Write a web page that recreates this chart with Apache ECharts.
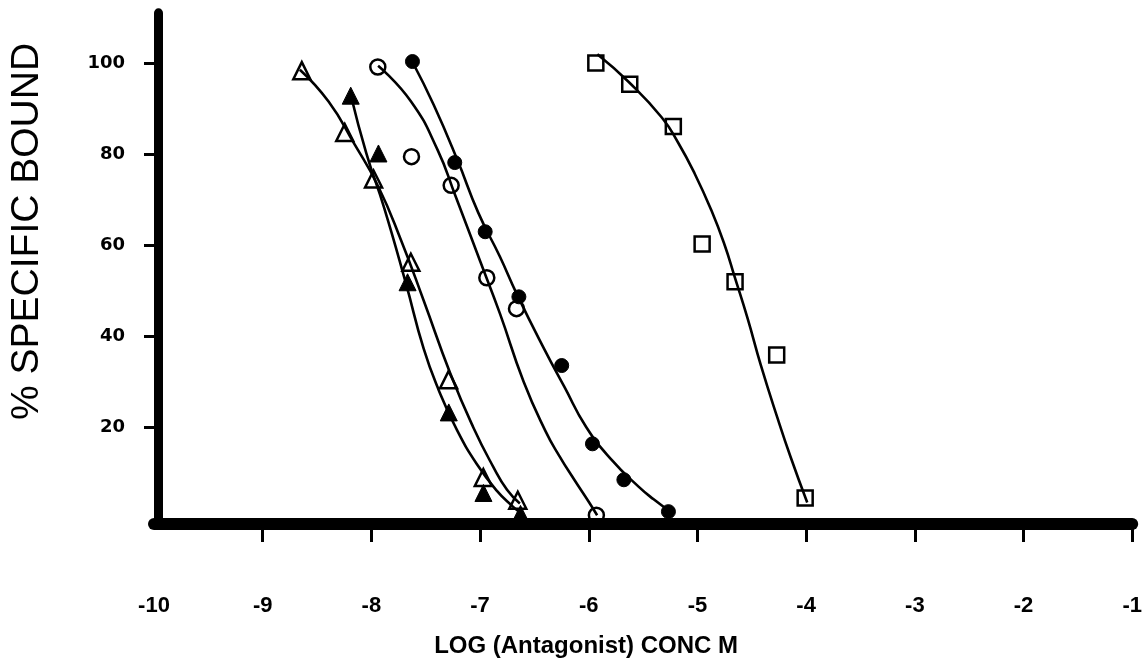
<!DOCTYPE html>
<html>
<head>
<meta charset="utf-8">
<script src="https://cdn.jsdelivr.net/npm/echarts@6/dist/echarts.min.js"></script>
<style>
html,body{margin:0;padding:0;background:#fff;}
#chart{width:1145px;height:663px;}
</style>
</head>
<body>
<div id="chart"></div>
<script>
// ---- tick labels ----
const xTickValues = [-10, -9, -8, -7, -6, -5, -4, -3, -2, -1];
const xTickMarks = [-9, -8, -7, -6, -5, -4, -3, -2, -1];
const yTickValues = [20, 40, 60, 80, 100];

// ---- measured points [log conc, % specific bound] ----
const openTriangles = [[-8.64, 98.3], [-8.245, 84.7], [-7.98, 74.5], [-7.637, 56.2], [-7.29, 30.4], [-6.97, 8.9], [-6.653, 3.9]];
const filledTriangles = [[-8.19, 92.8], [-7.935, 80.1], [-7.667, 51.8], [-7.288, 23.2], [-6.969, 5.5], [-6.628, 0.9]];
const openCircles = [[-7.941, 99.1], [-7.631, 79.4], [-7.266, 73.1], [-6.938, 52.8], [-6.665, 46.0], [-5.93, 0.6]];
const filledCircles = [[-7.622, 100.3], [-7.233, 78.1], [-6.953, 62.9], [-6.643, 48.6], [-6.249, 33.5], [-5.966, 16.3], [-5.677, 8.4], [-5.267, 1.4]];
const openSquares = [[-5.935, 100.0], [-5.623, 95.3], [-5.222, 86.0], [-4.957, 60.2], [-4.654, 51.9], [-4.271, 35.8], [-4.009, 4.4]];

// ---- fitted curves ----
const curveOpenTriangles = [[-8.658, 98.5], [-8.394, 91.5], [-8.157, 82.2], [-7.938, 72.9], [-7.728, 61.1], [-7.519, 47.8], [-7.273, 31.7], [-7.062, 19.9], [-6.88, 11.3], [-6.752, 6.2], [-6.634, 3.2]];
const curveFilledTriangles = [[-8.189, 92.9], [-8.047, 80.2], [-7.883, 68.2], [-7.683, 51.6], [-7.519, 37.2], [-7.382, 28.2], [-7.212, 19.3], [-7.029, 11.8], [-6.847, 6.0], [-6.698, 2.5], [-6.625, 1.1]];
const curveOpenCircles = [[-7.938, 99.4], [-7.637, 91.6], [-7.391, 80.9], [-7.227, 70.8], [-6.999, 56.4], [-6.817, 44.9], [-6.6, 30.0], [-6.398, 19.1], [-6.27, 13.6], [-6.133, 8.4], [-5.996, 3.4], [-5.923, 0.6]];
const curveFilledCircles = [[-7.622, 100.2], [-7.427, 90.8], [-7.209, 78.7], [-7.017, 67.1], [-6.817, 57.4], [-6.662, 49.2], [-6.407, 37.0], [-6.224, 28.8], [-6.024, 20.0], [-5.787, 12.7], [-5.542, 6.9], [-5.403, 4.1], [-5.267, 1.7]];
const curveOpenSquares = [[-5.921, 101.9], [-5.632, 95.8], [-5.328, 88.0], [-5.176, 82.4], [-5.024, 75.6], [-4.872, 67.6], [-4.75, 60.0], [-4.659, 53.1], [-4.538, 43.8], [-4.417, 33.6], [-4.264, 22.0], [-4.143, 13.4], [-3.99, 3.4]];

const chart = echarts.init(document.getElementById('chart'), null, {renderer: 'canvas'});

function curve(data) {
  return {
    type: 'line', data: data, smooth: 0.5,
    showSymbol: false, symbol: 'none', silent: true, z: 2,
    lineStyle: {color: '#000', width: 2.6, opacity: 1}
  };
}
function marks(data, symbol, size, filled) {
  return {
    type: 'scatter', data: data, symbol: symbol, symbolSize: size, z: 3, silent: true,
    itemStyle: filled
      ? {color: '#000', borderColor: '#000', borderWidth: 1, opacity: 1}
      : {color: 'rgba(0,0,0,0)', borderColor: '#000', borderWidth: 2.5, opacity: 1}
  };
}

const option = {
  backgroundColor: '#ffffff',
  animation: false,
  grid: {left: 150.8, right: 6.9, top: 12.85, bottom: 134, containLabel: false},
  xAxis: {
    type: 'value', min: -10, max: -1, interval: 1,
    offset: 6,
    name: 'LOG (Antagonist) CONC M',
    nameLocation: 'middle', nameGap: 110,
    nameTextStyle: {fontFamily: 'Liberation Sans', fontWeight: 'bold', fontSize: 24, color: '#000', padding: [0, 114, 0, 0]},
    axisLine: {show: true, onZero: false, lineStyle: {color: '#000', width: 12}},
    axisTick: {show: true, length: 18, customValues: xTickMarks, lineStyle: {color: '#000', width: 3}},
    axisLabel: {customValues: xTickValues, margin: 71, fontFamily: 'Liberation Sans', fontWeight: 'bold', fontSize: 22, color: '#000'},
    splitLine: {show: false}
  },
  yAxis: {
    type: 'value', min: 0, max: 111,
    offset: -4,
    name: '% SPECIFIC BOUND',
    nameLocation: 'middle', nameGap: 111, nameRotate: 90,
    nameTextStyle: {fontFamily: 'Liberation Sans', fontWeight: 'normal', fontSize: 39, color: '#000', padding: [0, 0, 0, 68]},
    axisLine: {show: true, onZero: false, lineStyle: {color: '#000', width: 9}},
    axisTick: {show: true, length: 14, customValues: yTickValues, lineStyle: {color: '#000', width: 3}},
    axisLabel: {customValues: yTickValues, margin: 33, fontFamily: 'DejaVu Sans', fontWeight: 'bold', fontSize: 18, color: '#000'},
    splitLine: {show: false}
  },
  series: [
    curve(curveOpenTriangles),
    curve(curveFilledTriangles),
    curve(curveOpenCircles),
    curve(curveFilledCircles),
    curve(curveOpenSquares),
    marks(openTriangles, 'triangle', 17, false),
    marks(filledTriangles, 'triangle', 17, true),
    marks(openCircles, 'circle', 15, false),
    marks(filledCircles, 'circle', 14, true),
    marks(openSquares, 'rect', 15, false)
  ]
};
chart.setOption(option);
</script>
</body>
</html>
